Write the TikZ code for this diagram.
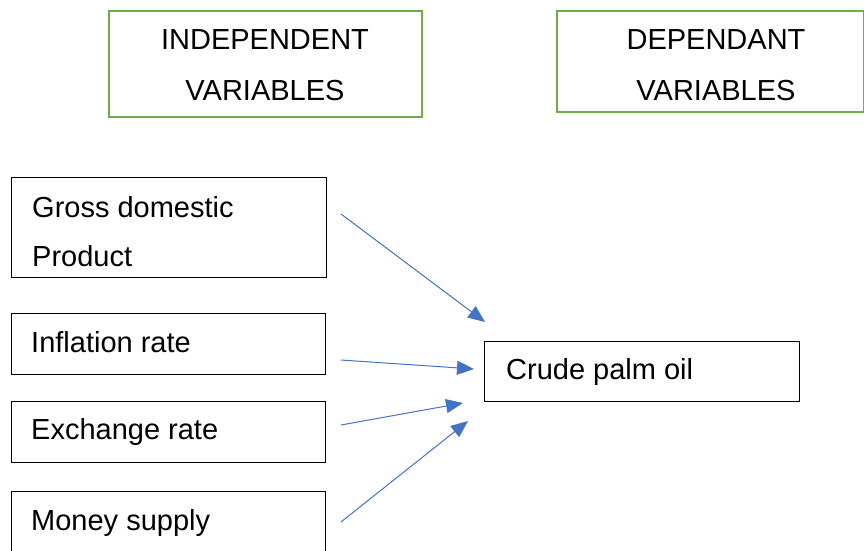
\documentclass[tikz,border=0pt]{standalone}
\usepackage{fontspec}
\setmainfont{Liberation Sans}
\usetikzlibrary{arrows.meta}
\definecolor{grn}{HTML}{70AD47}
\definecolor{blu}{HTML}{4472C4}
\begin{document}
\begin{tikzpicture}[x=1pt,y=-1pt,
  box/.style={draw=black,line width=1.3pt,inner sep=0pt,anchor=north west,minimum width=315pt},
  hbox/.style={draw=grn,line width=2pt,inner sep=0pt,anchor=north west},
  lbl/.style={anchor=base west,inner sep=0pt,font=\fontsize{29}{35}\selectfont},
  hlbl/.style={anchor=base,inner sep=0pt,font=\fontsize{29}{35}\selectfont},
  arr/.style={draw=blu,line width=1pt,-{Triangle[length=17pt,width=14pt]}}]
\useasboundingbox (0,0) rectangle (864,551);
% header boxes
\node[hbox,minimum width=313pt,minimum height=106pt] (ind) at (108,10) {};
\node[hbox,minimum width=307pt,minimum height=101pt] (dep) at (556,10) {};
\node[hlbl] (indA) at (265,50) {INDEPENDENT};
\node[hlbl] (indB) at (265,100) {VARIABLES};
\node[hlbl] (depA) at (716,50) {DEPENDANT};
\node[hlbl] (depB) at (716,100) {VARIABLES};
% variable boxes
\node[box,minimum height=100pt] (gdp) at (11,177) {};
\node[box,minimum width=314pt,minimum height=61pt] (inf) at (11,313) {};
\node[box,minimum width=314pt,minimum height=61pt] (exr) at (11,401) {};
\node[box,minimum width=314pt,minimum height=70pt] (mon) at (11,491) {};
\node[box,minimum height=60pt] (cpo) at (484,341) {};
\node[lbl] (gdpA) at (32,217) {Gross domestic};
\node[lbl] (gdpB) at (32,266) {Product};
\node[lbl] (infT) at (31,352) {Inflation rate};
\node[lbl] (exrT) at (31,439) {Exchange rate};
\node[lbl] (monT) at (31,530) {Money supply};
\node[lbl] (cpoT) at (506,379) {Crude palm oil};
% arrow ends
\coordinate (s1) at (341,214); \coordinate (e1) at (485,322);
\coordinate (s2) at (341,360); \coordinate (e2) at (474,369);
\coordinate (s3) at (341,425); \coordinate (e3) at (463,403);
\coordinate (s4) at (341,522); \coordinate (e4) at (468,421);
\draw[arr] (s1) -- (e1);
\draw[arr] (s2) -- (e2);
\draw[arr] (s3) -- (e3);
\draw[arr] (s4) -- (e4);
\end{tikzpicture}
\end{document}
